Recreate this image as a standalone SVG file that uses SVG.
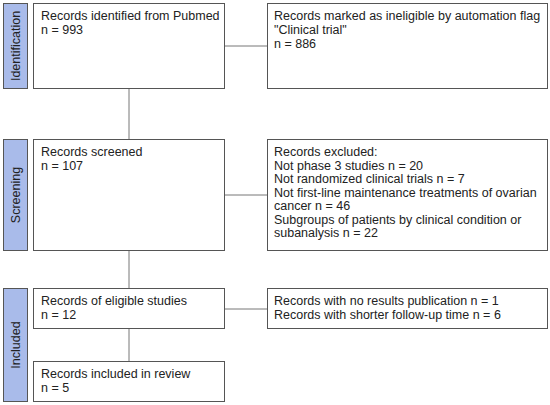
<svg xmlns="http://www.w3.org/2000/svg" width="550" height="405" viewBox="0 0 550 405">
<style>
.box{fill:#fff;stroke:#555;stroke-width:1}
.side{fill:#a9bbea;stroke:#555;stroke-width:1}
.t{font-family:"Liberation Sans",Arial,sans-serif;font-size:12.5px;fill:#222}
.st{font-family:"Liberation Sans",Arial,sans-serif;font-size:12.5px;fill:#222;text-anchor:middle}
.c{stroke:#777;stroke-width:1;fill:none}
</style>
<rect width="550" height="405" fill="#fff"/>
<g id="connectors">
<line class="c" x1="224" y1="46" x2="267" y2="46"/>
<line class="c" x1="129" y1="88" x2="129" y2="139"/>
<line class="c" x1="224" y1="195" x2="267" y2="195"/>
<line class="c" x1="129" y1="250" x2="129" y2="288"/>
<line class="c" x1="224" y1="309" x2="267" y2="309"/>
<line class="c" x1="129" y1="328" x2="129" y2="361"/>
</g>
<g id="label-identification"><rect class="side" x="3.5" y="3.5" width="24" height="85"/><text class="st" transform="translate(20,46) rotate(-90)">Identification</text></g>
<g id="label-screening"><rect class="side" x="3.5" y="139.5" width="24" height="111"/><text class="st" transform="translate(20,195) rotate(-90)">Screening</text></g>
<g id="label-included"><rect class="side" x="3.5" y="288.5" width="24" height="113"/><text class="st" transform="translate(20,345) rotate(-90)">Included</text></g>
<g id="node-identified"><rect class="box" x="33.5" y="3.5" width="191" height="85"/>
<text class="t" x="41" y="20">Records identified from Pubmed</text><text class="t" x="41" y="34">n = 993</text></g>
<g id="node-ineligible"><rect class="box" x="267.5" y="3.5" width="280" height="85"/>
<text class="t" x="274" y="20">Records marked as ineligible by automation flag</text><text class="t" x="274" y="34">"Clinical trial"</text><text class="t" x="274" y="48">n = 886</text></g>
<g id="node-screened"><rect class="box" x="33.5" y="139.5" width="191" height="111"/>
<text class="t" x="41" y="156">Records screened</text><text class="t" x="41" y="170">n = 107</text></g>
<g id="node-excluded"><rect class="box" x="267.5" y="139.5" width="280" height="111"/>
<text class="t" x="274" y="156">Records excluded:</text>
<text class="t" x="274" y="169.5">Not phase 3 studies n = 20</text>
<text class="t" x="274" y="183">Not randomized clinical trials n = 7</text>
<text class="t" x="274" y="196.5">Not first-line maintenance treatments of ovarian</text>
<text class="t" x="274" y="210">cancer n = 46</text>
<text class="t" x="274" y="223.5">Subgroups of patients by clinical condition or</text>
<text class="t" x="274" y="237">subanalysis n = 22</text></g>
<g id="node-eligible"><rect class="box" x="33.5" y="288.5" width="191" height="40"/>
<text class="t" x="41" y="305">Records of eligible studies</text><text class="t" x="41" y="319">n = 12</text></g>
<g id="node-nopub"><rect class="box" x="267.5" y="288.5" width="280" height="40"/>
<text class="t" x="274" y="305">Records with no results publication n = 1</text><text class="t" x="274" y="319">Records with shorter follow-up time n = 6</text></g>
<g id="node-review"><rect class="box" x="33.5" y="361.5" width="191" height="40"/>
<text class="t" x="41" y="378">Records included in review</text><text class="t" x="41" y="392">n = 5</text></g>
</svg>
